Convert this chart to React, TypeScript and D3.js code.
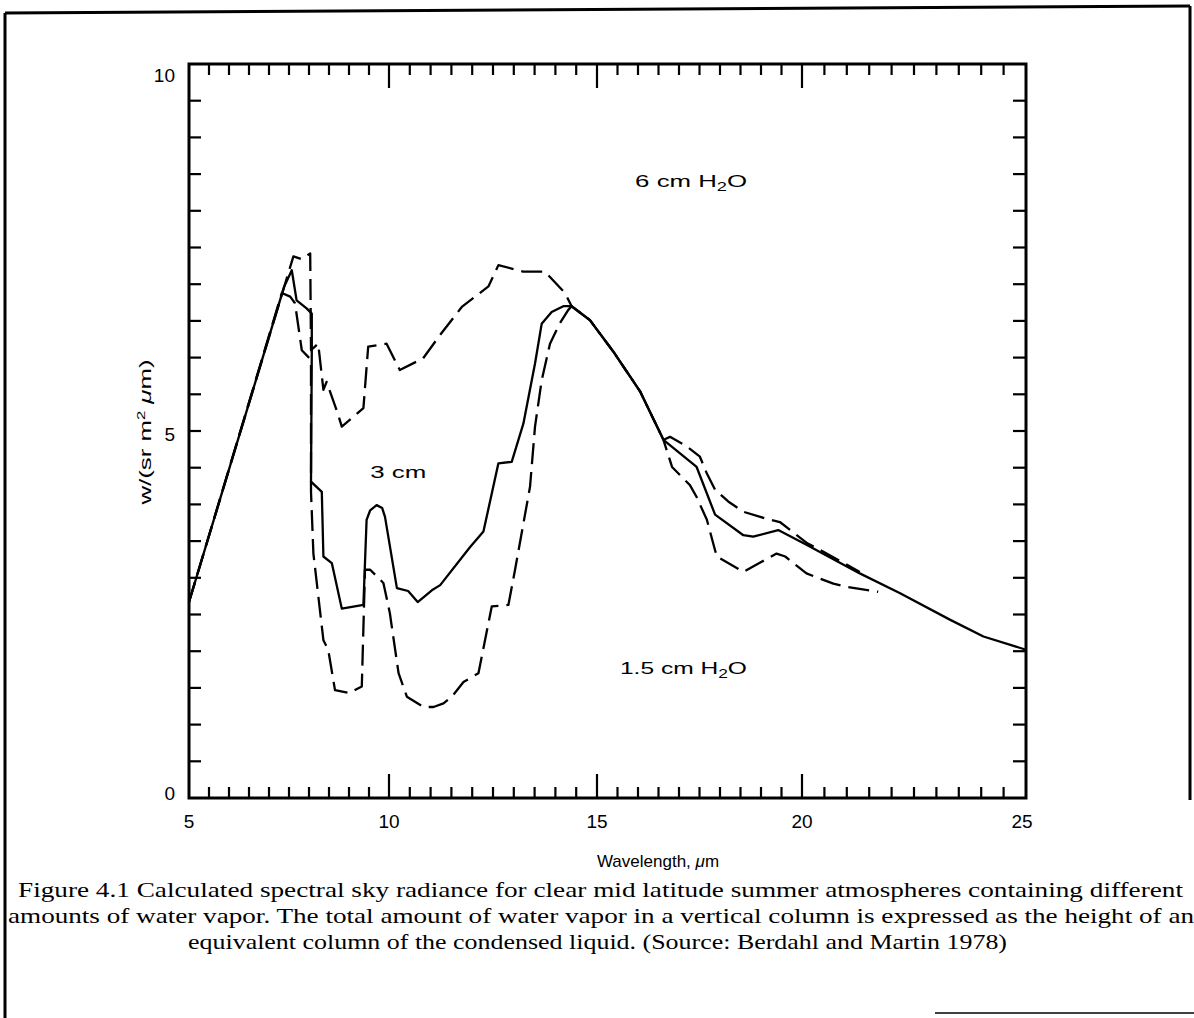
import React from 'react';
import * as d3 from 'd3';

// Axis ticks
const xTickValues = [5, 10, 15, 20, 25];
const xTickLabels = ['5', '10', '15', '20', '25'];
const yTickValues = [0, 5, 10];
const yTickLabels = ['0', '5', '10'];

// 3 cm H2O (solid)
const solid3X = [5.0, 7.375, 7.57, 7.69, 7.94, 8.07, 8.07, 8.05, 8.32, 8.36, 8.57, 8.82, 9.36, 9.44, 9.53, 9.69, 9.83, 9.9, 10.19, 10.46, 10.69, 11.03, 11.23, 11.95, 12.27, 12.63, 12.95, 13.23, 13.51, 13.67, 13.91, 14.19, 14.39, 14.83, 15.4, 16.05, 16.62, 17.43, 17.88, 18.57, 18.81, 19.42, 20.1, 21.29, 22.19, 23.3, 24.05, 25.0];
const solid3Y = [2.67, 6.96, 7.19, 6.78, 6.67, 6.6, 6.1, 4.31, 4.17, 3.29, 3.2, 2.58, 2.63, 3.79, 3.92, 3.99, 3.95, 3.83, 2.86, 2.82, 2.67, 2.83, 2.9, 3.42, 3.63, 4.56, 4.58, 5.1, 5.92, 6.46, 6.62, 6.7, 6.7, 6.51, 6.08, 5.54, 4.88, 4.51, 3.86, 3.58, 3.56, 3.65, 3.45, 3.06, 2.79, 2.43, 2.2, 2.02];

// 6 cm H2O (dashed, upper)
const dash6X = [5.0, 7.61, 7.82, 8.03, 8.05, 8.23, 8.36, 8.44, 8.73, 8.82, 9.36, 9.48, 9.94, 10.26, 10.82, 11.23, 11.75, 12.39, 12.63, 13.23, 13.75, 14.23, 14.39, 14.83, 15.4, 16.05, 16.62, 16.78, 17.19, 17.51, 17.68, 17.88, 18.2, 18.57, 19.22, 19.46, 20.12, 20.4, 21.29];
const dash6Y = [2.67, 7.38, 7.34, 7.42, 6.1, 6.19, 5.56, 5.67, 5.22, 5.06, 5.31, 6.15, 6.19, 5.83, 5.99, 6.31, 6.69, 6.97, 7.26, 7.17, 7.17, 6.88, 6.7, 6.51, 6.08, 5.54, 4.88, 4.92, 4.79, 4.65, 4.42, 4.2, 4.04, 3.9, 3.79, 3.76, 3.47, 3.38, 3.08];

// 1.5 cm H2O (dashed, lower)
const dash15X = [5.0, 7.32, 7.53, 7.65, 7.82, 8.05, 8.05, 8.11, 8.36, 8.48, 8.65, 9.03, 9.15, 9.32, 9.4, 9.53, 9.86, 10.02, 10.23, 10.43, 10.83, 11.07, 11.31, 11.51, 11.79, 12.15, 12.47, 12.87, 13.03, 13.39, 13.51, 13.67, 13.87, 14.11, 14.31, 14.39, 14.83, 15.4, 16.05, 16.62, 16.83, 17.27, 17.43, 17.68, 17.92, 18.57, 19.38, 19.59, 20.1, 20.7, 20.96, 21.7];
const dash15Y = [2.67, 6.88, 6.83, 6.74, 6.1, 5.97, 4.17, 3.33, 2.15, 2.02, 1.47, 1.43, 1.47, 1.52, 3.11, 3.11, 2.93, 2.52, 1.7, 1.38, 1.24, 1.24, 1.29, 1.38, 1.58, 1.7, 2.61, 2.63, 3.11, 4.24, 5.06, 5.69, 6.19, 6.47, 6.65, 6.7, 6.51, 6.08, 5.54, 4.88, 4.51, 4.26, 4.1, 3.79, 3.29, 3.08, 3.33, 3.29, 3.06, 2.92, 2.88, 2.81];

const captionLines = [
  'Figure 4.1 Calculated spectral sky radiance for clear mid latitude summer atmospheres containing different',
  'amounts of water vapor. The total amount of water vapor in a vertical column is expressed as the height of an',
  'equivalent column of the condensed liquid. (Source: Berdahl and Martin 1978)',
];

const W = 1194;
const H = 1018;

export default function App() {
  const x = d3.scaleLinear().domain([5, 10, 15, 20, 25]).range([189, 389, 597, 802, 1026]);
  const y = d3.scaleLinear().domain([0, 10]).range([798, 64]);

  const line = d3
    .line<[number, number]>()
    .x((d) => x(d[0]))
    .y((d) => y(d[1]))
    .curve(d3.curveLinear);

  const zip = (xs: number[], ys: number[]) => xs.map((v, i) => [v, ys[i]] as [number, number]);

  const xMinor = d3.range(5.5, 25, 0.5);
  const yMinor = d3.range(0.5, 10, 0.5);
  const isMajorX = (v: number) => Math.abs(v % 5) < 1e-6;

  const left = x(5);
  const right = x(25);
  const top = y(10);
  const bottom = y(0);

  const sans = "'Liberation Sans', Arial, Helvetica, sans-serif";
  const serif = "'Liberation Serif', 'Times New Roman', serif";

  return (
    <svg
      width={W}
      height={H}
      style={{ position: 'absolute', left: 0, top: 0, background: '#fff' }}
      xmlns="http://www.w3.org/2000/svg"
    >
      <rect x={0} y={0} width={W} height={H} fill="#fff" />
      {/* outer page frame */}
      <g stroke="#000" strokeWidth={3} fill="none">
        <line x1={5} y1={13} x2={1190} y2={6} />
        <line x1={5} y1={13} x2={5} y2={1018} />
        <line x1={1190} y1={6} x2={1190} y2={800} />
        <line x1={935} y1={1013} x2={1194} y2={1013} strokeWidth={1.5} />
      </g>

      {/* plot frame */}
      <rect x={left} y={top} width={right - left} height={bottom - top} fill="none" stroke="#000" strokeWidth={3} />

      {/* ticks */}
      <g stroke="#000" strokeWidth={2.2}>
        {xMinor.map((v) => {
          const len = isMajorX(v) ? 24 : 11;
          return (
            <g key={'xt' + v}>
              <line x1={x(v)} x2={x(v)} y1={bottom} y2={bottom - len} />
              <line x1={x(v)} x2={x(v)} y1={top} y2={top + len} />
            </g>
          );
        })}
        {yMinor.map((v) => (
          <g key={'yt' + v}>
            <line x1={left} x2={left + 12} y1={y(v)} y2={y(v)} />
            <line x1={right} x2={right - 13} y1={y(v)} y2={y(v)} />
          </g>
        ))}
      </g>

      {/* tick labels */}
      <g fontFamily={sans} fontSize={19} fill="#000">
        {xTickValues.map((v, i) => (
          <text key={'xl' + v} x={x(v) + (v === 25 ? -4 : 0)} y={828} textAnchor="middle">
            {xTickLabels[i]}
          </text>
        ))}
        {yTickValues.map((v, i) => (
          <text key={'yl' + v} x={175} y={y(v) + 2 + 1.6 * v} textAnchor="end">
            {yTickLabels[i]}
          </text>
        ))}
      </g>

      {/* curves */}
      <g fill="none" stroke="#000" strokeWidth={2.3} strokeLinejoin="round">
        <path d={line(zip(dash15X, dash15Y)) || ''} strokeDasharray="21 8" />
        <path d={line(zip(dash6X, dash6Y)) || ''} strokeDasharray="21 8" />
        <path d={line(zip(solid3X, solid3Y)) || ''} />
      </g>

      {/* curve annotations */}
      <g fontFamily={sans} fontSize={17} fill="#000">
        <text x={x(15.93)} y={y(8.32)} textLength={112} lengthAdjust="spacingAndGlyphs">
          6 cm H<tspan fontSize={12} dy={4}>2</tspan>
          <tspan dy={-4}>O</tspan>
        </text>
        <text x={x(9.53)} y={y(4.36)} textLength={56} lengthAdjust="spacingAndGlyphs">
          3 cm
        </text>
        <text x={x(15.56)} y={y(1.69)} textLength={127} lengthAdjust="spacingAndGlyphs">
          1.5 cm H<tspan fontSize={12} dy={4}>2</tspan>
          <tspan dy={-4}>O</tspan>
        </text>
      </g>

      {/* axis titles */}
      <text
        transform="translate(151,432) rotate(-90)"
        fontFamily={sans}
        fontSize={17}
        textAnchor="middle"
        fill="#000"
        textLength={145}
        lengthAdjust="spacingAndGlyphs"
      >
        w/(sr m<tspan fontSize={11} dy={-6}>2</tspan>
        <tspan dy={6}> </tspan>
        <tspan fontStyle="italic">μ</tspan>m)
      </text>
      <text x={658} y={867} fontFamily={sans} fontSize={17} fill="#000" textAnchor="middle">
        Wavelength, <tspan fontStyle="italic">μ</tspan>m
      </text>

      {/* caption */}
      <g fontFamily={serif} fontSize={22} fill="#000">
        <text x={18} y={897} textLength={1165} lengthAdjust="spacingAndGlyphs">
          {captionLines[0]}
        </text>
        <text x={8} y={923} textLength={1186} lengthAdjust="spacingAndGlyphs">
          {captionLines[1]}
        </text>
        <text x={188} y={949} textLength={819} lengthAdjust="spacingAndGlyphs">
          {captionLines[2]}
        </text>
      </g>
    </svg>
  );
}
